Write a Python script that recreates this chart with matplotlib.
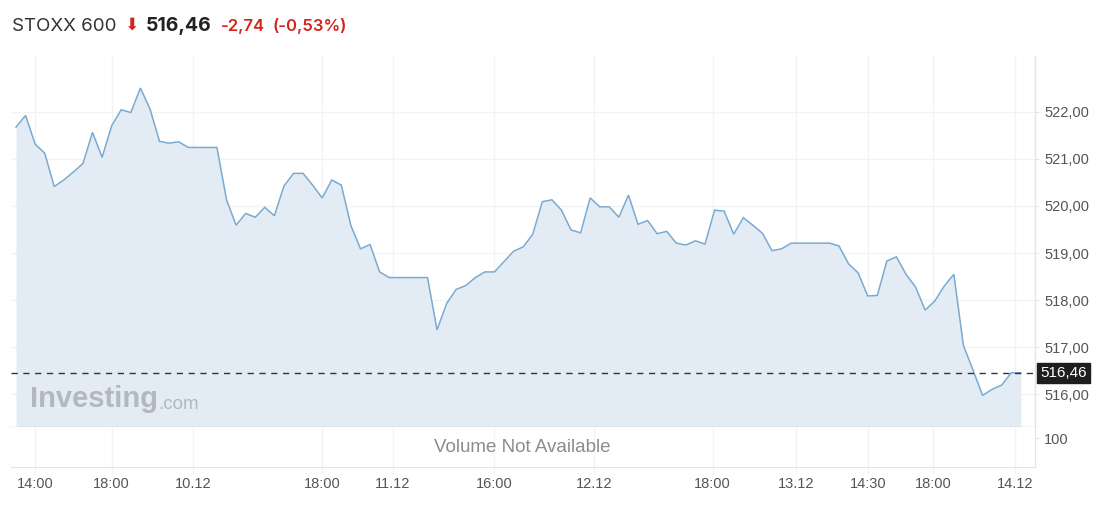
import matplotlib
matplotlib.use("Agg")
import matplotlib.pyplot as plt

# ---------------- data ----------------
title_name = "STOXX 600"
last_price = 516.46
change = -2.74
change_pct = -0.53

prices = [521.67, 521.92, 521.31, 521.12, 520.41, 520.55, 520.72, 520.90, 521.56, 521.03,
          521.70, 522.04, 521.98, 522.50, 522.06, 521.37, 521.33, 521.36, 521.24, 521.24,
          521.24, 521.24, 520.13, 519.59, 519.84, 519.76, 519.97, 519.79, 520.42, 520.69,
          520.69, 520.44, 520.17, 520.55, 520.44, 519.58, 519.09, 519.18, 518.60, 518.48,
          518.48, 518.48, 518.48, 518.48, 517.37, 517.93, 518.23, 518.31, 518.48, 518.60,
          518.60, 518.82, 519.04, 519.13, 519.40, 520.09, 520.13, 519.91, 519.49, 519.43,
          520.17, 519.98, 519.98, 519.76, 520.23, 519.61, 519.69, 519.41, 519.46, 519.21,
          519.17, 519.26, 519.19, 519.91, 519.89, 519.40, 519.75, 519.59, 519.42, 519.05,
          519.09, 519.21, 519.21, 519.21, 519.21, 519.21, 519.15, 518.77, 518.58, 518.09,
          518.10, 518.83, 518.92, 518.55, 518.28, 517.79, 517.98, 518.30, 518.55, 517.04,
          516.52, 515.98, 516.11, 516.20, 516.46, 516.46]

x_tick_pos = [2, 10, 18.5, 32, 39.4, 50, 60.4, 72.8, 81.5, 89, 95.8, 104.4]
x_tick_labels = ["14:00", "18:00", "10.12", "18:00", "11.12", "16:00", "12.12",
                 "18:00", "13.12", "14:30", "18:00", "14.12"]
y_ticks = [516, 517, 518, 519, 520, 521, 522]
volume_label = "100"
volume_text = "Volume Not Available"

# ---------------- layout ----------------
W, H = 1098, 512
fig = plt.figure(figsize=(W / 100, H / 100), dpi=100)
fig.patch.set_facecolor("white")

def ax_rect(l, t, r, b):
    return [l / W, 1 - b / H, (r - l) / W, (b - t) / H]

FONT = ["Liberation Sans", "DejaVu Sans"]
LINE_C = "#7aaad2"
FILL_C = "#e3ecf4"
GRID_C = "#f1f3f5"
SPINE_C = "#e1e4e8"
TXT_C = "#555555"

ax = fig.add_axes(ax_rect(11, 56, 1035, 427))
xs = list(range(len(prices)))
x0, x1 = -0.52, 106.48
y_bottom, y_top = 515.31, 523.18
ax.set_xlim(x0, x1)
ax.set_ylim(y_bottom, y_top)
ax.fill_between(xs, prices, y_bottom, color=FILL_C, lw=0, zorder=1)
ax.plot(xs, prices, color=LINE_C, lw=1.1, zorder=3, solid_joinstyle="miter")
ax.axhline(last_price, color="#333333", lw=1.0, dashes=(4.5, 4), zorder=4)

ax.set_yticks(y_ticks)
ax.set_yticklabels([f"{v:.2f}".replace(".", ",") for v in y_ticks])
ax.yaxis.tick_right()
ax.tick_params(axis="y", length=3, width=0.8, color=SPINE_C, pad=3.5,
               labelsize=10.5, labelcolor=TXT_C)
for lab in ax.get_yticklabels():
    lab.set_family(FONT)
ax.set_xticks(x_tick_pos)
ax.tick_params(axis="x", length=0, labelbottom=False)
ax.grid(True, color=GRID_C, lw=1.0, zorder=0)
ax.set_axisbelow(True)
for s in ["top", "left"]:
    ax.spines[s].set_visible(False)
ax.spines["right"].set_color(SPINE_C)
ax.spines["right"].set_linewidth(1.0)
ax.spines["bottom"].set_color("#c9ccd0")
ax.spines["bottom"].set_linewidth(1.0)

# last price label box
ax.annotate(f"{last_price:.2f}".replace(".", ","), xy=(1.0, last_price),
            xycoords=("axes fraction", "data"), xytext=(3.5, 0),
            textcoords="offset points", ha="left", va="center",
            fontsize=11, color="white", family=FONT, zorder=10,
            bbox=dict(boxstyle="square,pad=0.2", fc="#1e1e1e", ec="#1e1e1e"),
            annotation_clip=False)

# watermark
wm = ax.text(0.0185, 0.054, "Investing", transform=ax.transAxes, fontsize=21,
             fontweight="bold", color="#b3b8bd", family=FONT, ha="left",
             va="baseline", zorder=2)
ax.annotate(".com", xy=(1, 0), xycoords=wm, xytext=(0.5, 0),
            textcoords="offset points", fontsize=13.5, color="#b3b8bd",
            family=FONT, ha="left", va="bottom", zorder=2)

# volume panel
vax = fig.add_axes(ax_rect(11, 427, 1035, 467))
vax.set_xlim(x0, x1)
vax.set_ylim(0, 1)
vax.set_xticks(x_tick_pos)
vax.set_xticklabels(x_tick_labels)
vax.tick_params(axis="x", length=5, width=1.0, color=GRID_C, pad=2,
                labelsize=10.5, labelcolor=TXT_C)
for lab in vax.get_xticklabels():
    lab.set_family(FONT)
vax.set_yticks([0.72])
vax.set_yticklabels([volume_label])
vax.yaxis.tick_right()
vax.tick_params(axis="y", length=3, width=0.8, color=SPINE_C, pad=3.5,
                labelsize=10.5, labelcolor=TXT_C)
for lab in vax.get_yticklabels():
    lab.set_family(FONT)
vax.grid(True, axis="x", color=GRID_C, lw=1.0)
for s in ["top", "left"]:
    vax.spines[s].set_visible(False)
vax.spines["right"].set_color(SPINE_C)
vax.spines["bottom"].set_color(SPINE_C)
vax.text(0.499, 0.48, volume_text, transform=vax.transAxes, ha="center",
         va="center", fontsize=13.5, color="#8c8c8c", family=FONT)

# header
def ftext(px, py, s, **kw):
    fig.text(px / W, 1 - py / H, s, va="baseline", ha="left", **kw)

RED = "#d2261d"
ftext(12, 31, title_name, fontsize=13.5, color="#333333", family=["Inter", "DejaVu Sans"])
ftext(124, 30, "\u2b07", fontsize=12.5, color=RED, family=["DejaVu Sans"])
ftext(146, 31, f"{last_price:.2f}".replace(".", ","), fontsize=14,
      fontweight="bold", color="#222222", family=["Inter", "DejaVu Sans"])
ftext(221, 31, f"{change:.2f}".replace(".", ","), fontsize=12,
      fontweight="semibold", color=RED, family=["Inter", "DejaVu Sans"])
ftext(272, 31, f"({change_pct:.2f}%)".replace(".", ","), fontsize=12,
      fontweight="semibold", color=RED, family=["Inter", "DejaVu Sans"])

fig.savefig("out.png", dpi=100, facecolor="white")
